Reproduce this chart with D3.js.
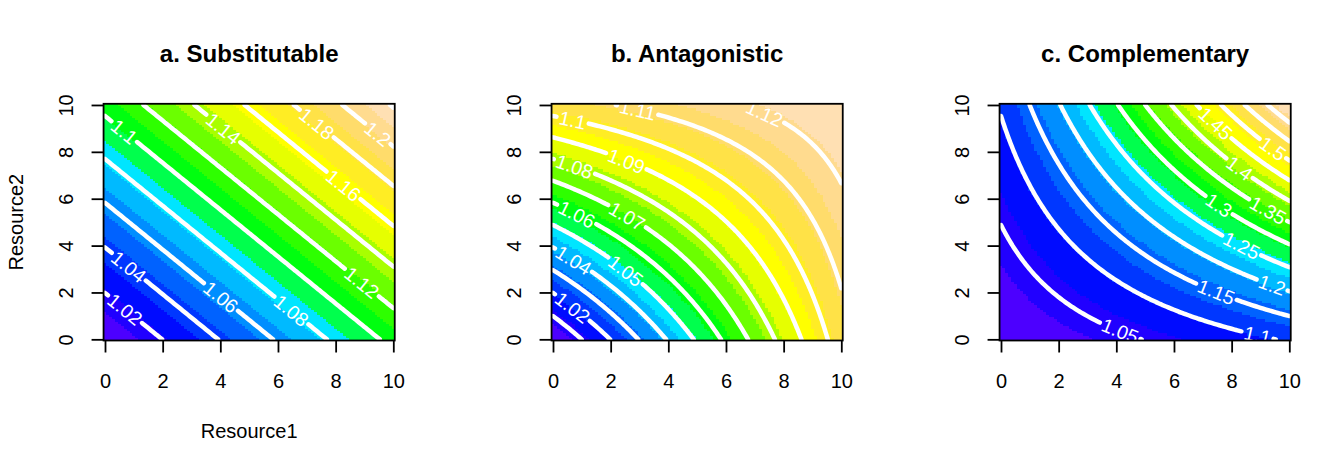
<!DOCTYPE html>
<html>
<head>
<meta charset="utf-8">
<script src="https://cdn.jsdelivr.net/npm/d3@7"></script>
<style>
  body { margin: 0; background: #ffffff; }
  svg { display: block; }
</style>
</head>
<body>
<svg id="chart" width="1344" height="470"></svg>
<script>
// ------------------------------------------------------------------
// DATA
// ------------------------------------------------------------------
const panelTitles = ["a. Substitutable", "b. Antagonistic", "c. Complementary"];
const xAxisTitle = "Resource1";
const yAxisTitle = "Resource2";

// resource levels sampled on both axes (0 .. 10 by 0.1)
const resourceGrid = d3.range(0, 101).map(i => i / 10);

// response surface parameters per panel: exp(linear*(R1+R2) + interaction*R1*R2)
const linearRate      = [0.01, 0.01, 0.01];
const interactionRate = [0.0, -0.0008, 0.003];

// contour levels per panel
const levelsA = [1.00, 1.02, 1.04, 1.06, 1.08, 1.10, 1.12, 1.14, 1.16, 1.18, 1.20, 1.22];
const levelsB = [1.00, 1.01, 1.02, 1.03, 1.04, 1.05, 1.06, 1.07, 1.08, 1.09, 1.10, 1.11, 1.12, 1.13];
const levelsC = [1.00, 1.05, 1.10, 1.15, 1.20, 1.25, 1.30, 1.35, 1.40, 1.45, 1.50, 1.55, 1.60, 1.65];

const xTicks = [0, 2, 4, 6, 8, 10];
const yTicks = [0, 2, 4, 6, 8, 10];

const nColors = 20; // topo.colors(20)

// ------------------------------------------------------------------
// label placement (fraction of each contour's length where its label sits; null = no label)
// ------------------------------------------------------------------
const labelAtA = [null, 0.35, 0.21, 0.69, 0.84, 0.07, 0.874, 0.145, 0.665, 0.23, 0.695, null];
const labelAtB = [null, null, 0.33, null, 0.165, 0.47, 0.12, 0.32, 0.077, 0.23, 0.053, 0.072, 0.166, null];
const labelAtC = [null, 0.876, 0.95, 0.78, 0.94, 0.8, 0.64, 0.87, 0.61, 0.22, 0.77, null, null, null];

// ------------------------------------------------------------------
// layout / style
// ------------------------------------------------------------------
const panelStep = 448;
const plotL = 103.56, plotR = 394.74, plotT = 103.8, plotB = 340.5;
const FONT = "'Liberation Sans', Arial, Helvetica, sans-serif";
const LABEL_SIZE = 19.5;

const svg = d3.select("#chart");

function hsv2hex(h, s, v) {
  const i = Math.floor(h * 6), f = h * 6 - i;
  const p = v * (1 - s), q = v * (1 - f * s), t = v * (1 - (1 - f) * s);
  let r, g, b;
  switch (((i % 6) + 6) % 6) {
    case 0: r = v; g = t; b = p; break;
    case 1: r = q; g = v; b = p; break;
    case 2: r = p; g = v; b = t; break;
    case 3: r = p; g = q; b = v; break;
    case 4: r = t; g = p; b = v; break;
    default: r = v; g = p; b = q;
  }
  return d3.rgb(Math.round(r * 255), Math.round(g * 255), Math.round(b * 255)).formatHex();
}
function topoColors(n) {
  const j = Math.floor(n / 3), k = Math.floor(n / 3), i = n - j - k;
  const seq = (a, b, m) => m === 1 ? [a] : d3.range(m).map(t => a + (b - a) * t / (m - 1));
  const s3 = seq(1, 0.3, k);
  return [
    ...seq(43 / 60, 31 / 60, i).map(h => hsv2hex(h, 1, 1)),
    ...seq(23 / 60, 11 / 60, j).map(h => hsv2hex(h, 1, 1)),
    ...seq(10 / 60, 6 / 60, k).map((h, idx) => hsv2hex(h, s3[idx], 1))
  ];
}
const palette = topoColors(nColors);

// marching squares isolines on a grid Z[j][i]
function isolines(Z, level) {
  const ny = Z.length, nx = Z[0].length;
  const pos = new Map(), adj = new Map();
  const add = (key, p) => { if (!pos.has(key)) { pos.set(key, p); adj.set(key, []); } return key; };
  const hC = (i, j) => {
    const a = Z[j][i] - level, b = Z[j][i + 1] - level;
    if ((a >= 0) !== (b >= 0)) return add("h" + i + "," + j, [i + a / (a - b), j]);
    return null;
  };
  const vC = (i, j) => {
    const a = Z[j][i] - level, b = Z[j + 1][i] - level;
    if ((a >= 0) !== (b >= 0)) return add("v" + i + "," + j, [i, j + a / (a - b)]);
    return null;
  };
  const link = (a, b) => { adj.get(a).push(b); adj.get(b).push(a); };
  for (let j = 0; j < ny - 1; j++) {
    for (let i = 0; i < nx - 1; i++) {
      const bottom = hC(i, j), right = vC(i + 1, j), top = hC(i, j + 1), left = vC(i, j);
      const e = [bottom, right, top, left].filter(Boolean);
      if (e.length === 2) link(e[0], e[1]);
      else if (e.length === 4) {
        const c = (Z[j][i] + Z[j][i + 1] + Z[j + 1][i] + Z[j + 1][i + 1]) / 4 - level;
        const bl = (Z[j][i] - level) >= 0;
        if ((c >= 0) === bl) { link(bottom, right); link(top, left); }
        else { link(bottom, left); link(top, right); }
      }
    }
  }
  const visited = new Set(), lines = [];
  const walk = start => {
    const line = [pos.get(start)]; visited.add(start);
    let cur = start;
    while (true) {
      const nxt = adj.get(cur).find(k => !visited.has(k));
      if (!nxt) break;
      visited.add(nxt); line.push(pos.get(nxt)); cur = nxt;
    }
    return line;
  };
  for (const [k, a] of adj) if (a.length === 1 && !visited.has(k)) lines.push(walk(k));
  for (const [k, a] of adj) if (!visited.has(k) && a.length > 0) lines.push(walk(k));
  return lines;
}

function cumulative(P) {
  const c = [0];
  for (let k = 1; k < P.length; k++) c.push(c[k - 1] + Math.hypot(P[k][0] - P[k - 1][0], P[k][1] - P[k - 1][1]));
  return c;
}
function pointAt(P, cum, s) {
  if (s <= 0) return P[0];
  if (s >= cum[cum.length - 1]) return P[P.length - 1];
  const k = d3.bisectLeft(cum, s);
  const t = (s - cum[k - 1]) / (cum[k] - cum[k - 1] || 1);
  return [P[k - 1][0] + t * (P[k][0] - P[k - 1][0]), P[k - 1][1] + t * (P[k][1] - P[k - 1][1])];
}
function subPath(P, cum, s0, s1) {
  if (s1 <= s0) return [];
  const out = [pointAt(P, cum, s0)];
  for (let k = 0; k < P.length; k++) if (cum[k] > s0 && cum[k] < s1) out.push(P[k]);
  out.push(pointAt(P, cum, s1));
  return out;
}

const fmtLevel = v => String(+v.toFixed(2));

// measuring helper
const measurer = svg.append("text").attr("font-family", FONT).attr("font-size", LABEL_SIZE).attr("visibility", "hidden");
function textWidth(str) { measurer.text(str); return measurer.node().getComputedTextLength(); }

const panels = [
  { title: panelTitles[0], levels: levelsA, labelAt: labelAtA, lin: linearRate[0], inter: interactionRate[0] },
  { title: panelTitles[1], levels: levelsB, labelAt: labelAtB, lin: linearRate[1], inter: interactionRate[1] },
  { title: panelTitles[2], levels: levelsC, labelAt: labelAtC, lin: linearRate[2], inter: interactionRate[2] }
];

const defs = svg.append("defs");
const lineGen = d3.line();

panels.forEach((p, pi) => {
  const off = pi * panelStep;
  const n = resourceGrid.length;
  const step = resourceGrid[1] - resourceGrid[0];
  const dom = [resourceGrid[0] - step / 2, resourceGrid[n - 1] + step / 2];
  const x = d3.scaleLinear().domain(dom).range([off + plotL, off + plotR]);
  const y = d3.scaleLinear().domain(dom).range([plotB, plotT]);
  const gi = d3.scaleLinear().domain([0, n - 1]).range([resourceGrid[0], resourceGrid[n - 1]]);

  const Z = resourceGrid.map(yv => resourceGrid.map(xv => Math.exp(p.lin * (xv + yv) + p.inter * xv * yv)));
  const flat = Z.flat();
  const zmin = d3.min(flat), zmax = d3.max(flat);
  const cIdx = z => Math.min(nColors - 1, Math.max(0, Math.floor((nColors - 1e-5) * (z - zmin) / (zmax - zmin) + 1e-7)));

  const clipId = "clip" + pi;
  defs.append("clipPath").attr("id", clipId).append("rect")
    .attr("x", x(dom[0])).attr("y", y(dom[1]))
    .attr("width", x(dom[1]) - x(dom[0])).attr("height", y(dom[0]) - y(dom[1]));

  const g = svg.append("g");

  // raster image (runs of equal colour per row)
  const runs = [];
  for (let j = 0; j < n; j++) {
    let i0 = 0, c0 = cIdx(Z[j][0]);
    for (let i = 1; i <= n; i++) {
      const c = i < n ? cIdx(Z[j][i]) : -1;
      if (c !== c0) { runs.push({ j, i0, i1: i - 1, c: c0 }); i0 = i; c0 = c; }
    }
  }
  g.append("g").attr("shape-rendering", "crispEdges")
    .selectAll("rect").data(runs).join("rect")
    .attr("x", d => x(resourceGrid[d.i0] - step / 2))
    .attr("width", d => x(resourceGrid[d.i1] + step / 2) - x(resourceGrid[d.i0] - step / 2))
    .attr("y", d => y(resourceGrid[d.j] + step / 2))
    .attr("height", d => y(resourceGrid[d.j] - step / 2) - y(resourceGrid[d.j] + step / 2))
    .attr("fill", d => palette[d.c]);

  // contours
  const cg = g.append("g").attr("clip-path", `url(#${clipId})`);
  p.levels.forEach((lev, li) => {
    const lines = isolines(Z, lev);
    lines.forEach(line => {
      let P = line.map(([a, b]) => [x(gi(a)), y(gi(b))]);
      if (P.length < 2) return;
      // orient: start at the end with smaller x (upper-left end)
      const s = P[0], e = P[P.length - 1];
      if (s[0] > e[0] + 1e-6 || (Math.abs(s[0] - e[0]) <= 1e-6 && s[1] > e[1])) P = P.slice().reverse();
      const cum = cumulative(P);
      const total = cum[cum.length - 1];
      const frac = p.labelAt[li];
      const pieces = [];
      if (frac != null) {
        const txt = fmtLevel(lev);
        const w = textWidth(txt);
        const c = frac * total;
        const a0 = pointAt(P, cum, c - w / 2), a1 = pointAt(P, cum, c + w / 2);
        let ang = Math.atan2(a1[1] - a0[1], a1[0] - a0[0]) * 180 / Math.PI;
        if (ang > 90) ang -= 180;
        if (ang < -90) ang += 180;
        const mx = (a0[0] + a1[0]) / 2, my = (a0[1] + a1[1]) / 2;
        const gap = w / 2 + 3;
        pieces.push(subPath(P, cum, 0, c - gap));
        pieces.push(subPath(P, cum, c + gap, total));
        cg.append("text")
          .attr("transform", `translate(${mx},${my}) rotate(${ang})`)
          .attr("text-anchor", "middle")
          .attr("dominant-baseline", "central")
          .attr("font-family", FONT)
          .attr("font-size", LABEL_SIZE)
          .attr("fill", "#ffffff")
          .text(txt);
      } else {
        pieces.push(P);
      }
      pieces.filter(q => q.length > 1).forEach(q => {
        cg.append("path")
          .attr("d", lineGen(q))
          .attr("fill", "none")
          .attr("stroke", "#ffffff")
          .attr("stroke-width", 4.5)
          .attr("stroke-linecap", "round")
          .attr("stroke-linejoin", "round");
      });
    });
  });

  // box
  svg.append("rect")
    .attr("x", x(dom[0])).attr("y", y(dom[1]))
    .attr("width", x(dom[1]) - x(dom[0])).attr("height", y(dom[0]) - y(dom[1]))
    .attr("fill", "none").attr("stroke", "#000").attr("stroke-width", 1.8);

  // x axis
  const gx = svg.append("g").attr("transform", `translate(0,${plotB})`)
    .call(d3.axisBottom(x).tickValues(xTicks).tickSize(12).tickSizeOuter(0).tickFormat(d3.format("d")));
  gx.select(".domain").remove();
  gx.selectAll(".tick line").attr("stroke", "#000").attr("stroke-width", 1.8);
  gx.selectAll(".tick text")
    .attr("y", 47.5).attr("dy", 0)
    .attr("font-family", FONT).attr("font-size", 20).attr("fill", "#000");

  // y axis
  const gy = svg.append("g").attr("transform", `translate(${x(dom[0])},0)`)
    .call(d3.axisLeft(y).tickValues(yTicks).tickSize(12).tickSizeOuter(0).tickFormat(d3.format("d")));
  gy.select(".domain").remove();
  gy.selectAll(".tick line").attr("stroke", "#000").attr("stroke-width", 1.8);
  gy.selectAll(".tick text")
    .attr("x", null).attr("dy", 0)
    .attr("transform", "translate(-30.3,0) rotate(-90)")
    .attr("text-anchor", "middle")
    .attr("font-family", FONT).attr("font-size", 20).attr("fill", "#000");

  const cx = (x(dom[0]) + x(dom[1])) / 2;
  // title
  svg.append("text")
    .attr("x", cx).attr("y", 62)
    .attr("text-anchor", "middle")
    .attr("font-family", FONT).attr("font-size", 24).attr("font-weight", "bold")
    .attr("fill", "#000")
    .text(p.title);

  if (pi === 0) {
    svg.append("text")
      .attr("x", cx).attr("y", 438.3)
      .attr("text-anchor", "middle")
      .attr("font-family", FONT).attr("font-size", 20).attr("fill", "#000")
      .text(xAxisTitle);
    const cy = (plotT + plotB) / 2;
    svg.append("text")
      .attr("transform", `translate(22.5,${cy}) rotate(-90)`)
      .attr("text-anchor", "middle")
      .attr("font-family", FONT).attr("font-size", 20).attr("fill", "#000")
      .text(yAxisTitle);
  }
});
measurer.remove();
</script>
</body>
</html>
